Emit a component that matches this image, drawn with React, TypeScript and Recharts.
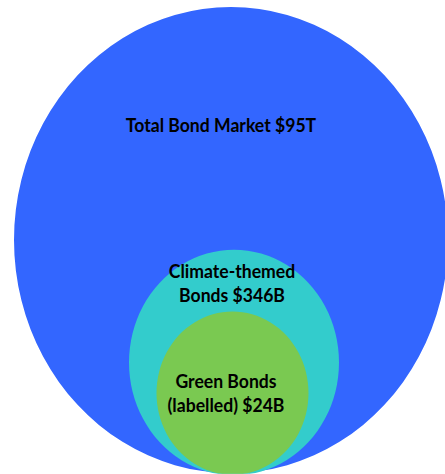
import React from "react";
import { PieChart, Pie, Cell } from "recharts";

// values in $B
const categories = ["Total Bond Market", "Climate-themed Bonds", "Green Bonds (labelled)"];
const values = [95000, 346, 24];
const labelLines = [
  ["Total Bond Market $95T"],
  ["Climate-themed", "Bonds $346B"],
  ["Green Bonds", "(labelled) $24B"],
];

const COLORS = ["#3366FF", "#33CCCC", "#7AC951"];

// the original is drawn a little taller than wide, so the svg is stretched
const STRETCH = 1.074;
const W = 445;
const H = 441;

const layout = [
  { cx: 231, cy: 223.5, r: 217, dx: -10, dy: [-101] },
  { cx: 234, cy: 337.5, r: 105, dx: -2, dy: [-79, -56.5] },
  { cx: 232.5, cy: 366, r: 76, dx: -6.5, dy: [-5, 18] },
];

function makeLabel(idx: number) {
  const l = layout[idx];
  return () => (
    <g>
      {labelLines[idx].map((line, i) => (
        <text
          key={i}
          x={l.cx + l.dx}
          y={l.cy + l.dy[i]}
          textAnchor="middle"
          fill="#000"
          fontFamily="Lato, sans-serif"
          fontWeight={700}
          fontSize={17.6}
        >
          {line}
        </text>
      ))}
    </g>
  );
}

export default function App() {
  return (
    <div
      style={{
        position: "absolute",
        left: 0,
        top: 0,
        width: W,
        height: H,
        transform: `scaleY(${STRETCH})`,
        transformOrigin: "0 0",
      }}
    >
      <PieChart width={W} height={H} margin={{ top: 0, right: 0, bottom: 0, left: 0 }}>
        {categories.map((name, idx) => (
          <Pie
            key={name}
            data={[{ name, value: values[idx] }]}
            dataKey="value"
            nameKey="name"
            cx={layout[idx].cx}
            cy={layout[idx].cy}
            innerRadius={0}
            outerRadius={layout[idx].r}
            startAngle={90}
            endAngle={450}
            stroke="none"
            label={makeLabel(idx)}
            labelLine={false}
            isAnimationActive={false}
          >
            <Cell fill={COLORS[idx]} />
          </Pie>
        ))}
      </PieChart>
    </div>
  );
}
